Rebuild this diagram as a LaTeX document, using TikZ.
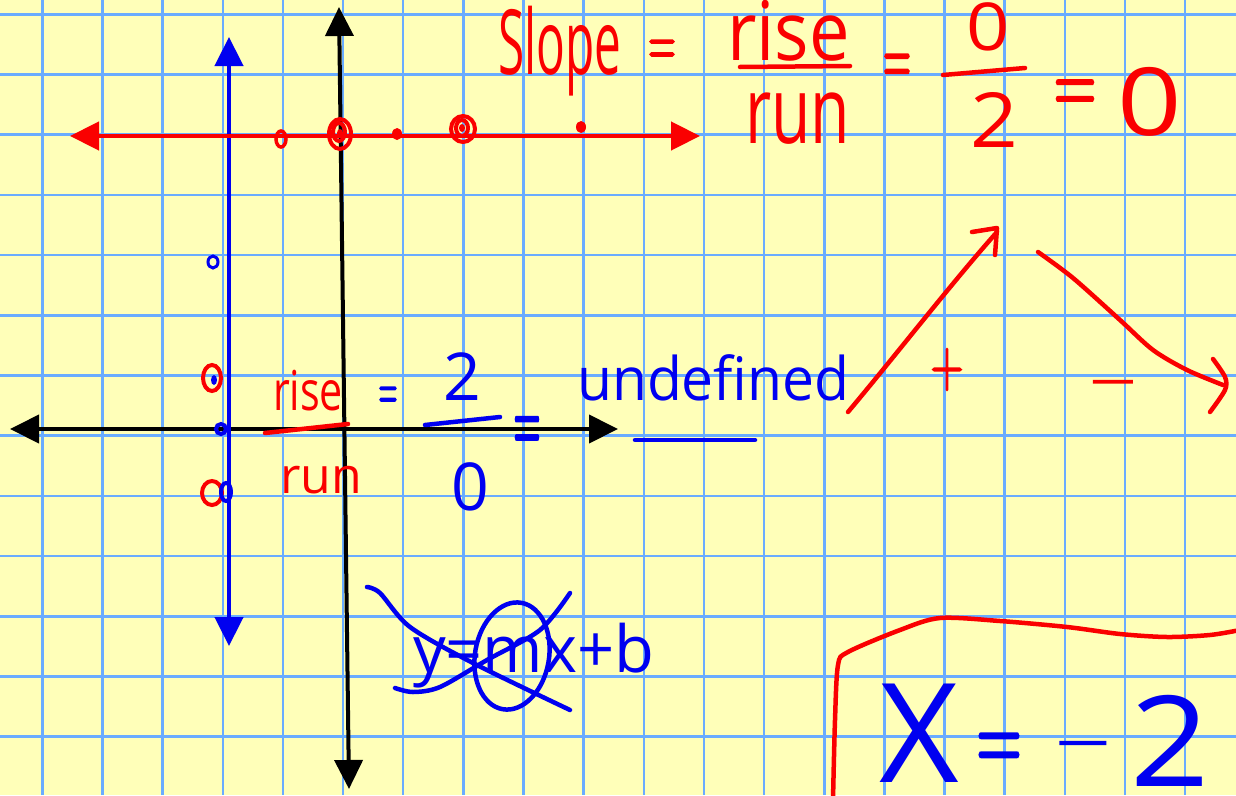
\documentclass[tikz,border=0pt]{standalone}
\usepackage{graphicx}
\usepackage{fontspec}
\usetikzlibrary{arrows.meta}
\setmainfont{Open Sans}
\newfontfamily\lmr[FakeBold=3]{Latin Modern Roman}
\definecolor{paper}{RGB}{255,255,185}
\definecolor{gridblue}{RGB}{105,172,255}
\definecolor{pred}{RGB}{250,0,0}
\definecolor{pblue}{RGB}{0,0,240}
\newcommand\hw[3]{{\fontsize{#2}{#2}\selectfont\scalebox{#1}[1]{#3}}}
\newcommand\sym[3]{{\lmr\fontsize{#2}{#2}\selectfont\scalebox{#1}[1]{#3}}}
\begin{document}
\begin{tikzpicture}[x=1pt,y=-1pt,
  ink/.style={line width=4.5pt,line cap=round,line join=round},
  rtxt/.style={text=pred,inner sep=0pt,outer sep=0pt},
  btxt/.style={text=pblue,inner sep=0pt,outer sep=0pt},
  both/.style={{Triangle[length=29pt,width=28pt]}-{Triangle[length=29pt,width=28pt]}}]
\useasboundingbox (0,0) rectangle (1236,795);
\clip (0,0) rectangle (1236,795);
\fill[paper] (0,0) rectangle (1236,795);
\foreach \k in {0,...,19} \draw[gridblue,line width=2.5pt] ({42.3+60.15*\k},0) -- ({42.3+60.15*\k},795);
\foreach \k in {0,...,12} \draw[gridblue,line width=2.5pt] (0,{14.3+60.2*\k}) -- (1236,{14.3+60.2*\k});
% axes
\coordinate (xl) at (10,429); \coordinate (xr) at (618,429);
\coordinate (yt) at (339,7); \coordinate (yb) at (349,789);
\draw[both,line width=4pt,black] (xl) -- (xr);
\draw[both,line width=4pt,black] (yt) -- (yb);
\coordinate (bt) at (229,37); \coordinate (bb) at (229,646);
\draw[both,line width=4.5pt,pblue] (bt) -- (bb);
\coordinate (rl) at (70,136); \coordinate (rr) at (700,136);
\draw[both,line width=4.5pt,pred] (rl) -- (rr);
% marks on red line
\draw[pred,line width=3.5pt] (281,139) ellipse (5 and 8);
\draw[pred,line width=4pt] (340,134) ellipse (11 and 15);
\draw[pred,line width=4pt] (339,132) ellipse (6 and 9);
\fill[pred] (340,133) ellipse (3 and 4);
\fill[pred] (397,134) ellipse (5 and 6);
\draw[pred,line width=4pt] (463,129) ellipse (12 and 13);
\draw[pred,line width=4pt] (462,128) ellipse (6 and 8);
\fill[pred] (462,128) ellipse (3 and 4);
\fill[pred] (581,127) ellipse (5 and 6);
% marks on blue line
\draw[pblue,line width=3pt] (213,262) ellipse (5 and 6);
\draw[pred,line width=4pt] (212,378) ellipse (9 and 13);
\fill[pblue] (214,380) ellipse (3 and 5);
\draw[pblue,line width=4pt] (221,429) circle (5);
\draw[pred,line width=4pt] (212,493) ellipse (10 and 12);
\draw[pblue,line width=4pt] (226,492) ellipse (5 and 9);
% top equation
\node[rtxt,anchor=base west] (slope) at (498,74) {\hw{0.53}{90}{Slope}};
\node[rtxt,anchor=base] (eq1) at (662,66) {\sym{0.52}{72}{=}};
\node[rtxt,anchor=base west] (rise2) at (727,60) {\hw{0.88}{82}{rise}};
\draw[pred,ink] (740,67) -- (850,66);
\node[rtxt,anchor=base west] (run2) at (745,143) {\hw{0.69}{93}{run}};
\node[rtxt,anchor=base] (eq2) at (897,85) {\sym{0.45}{85}{=}};
\node[rtxt,anchor=base west] (zero1) at (966,50) {\hw{1.15}{66}{0}};
\draw[pred,ink] (943,75) -- (1025,68);
\node[rtxt,anchor=base west] (two1) at (970,147) {\hw{1.1}{76}{2}};
\node[rtxt,anchor=base] (eq3) at (1075,114) {\sym{0.62}{94}{=}};
\node[rtxt,anchor=base west] (zero2) at (1117,135) {\hw{1.2}{94}{0}};
% rise/run near axes
\node[rtxt,anchor=base west] (rise1) at (273,410) {\hw{0.75}{55}{rise}};
\draw[pred,ink] (265,433) -- (348,424);
\node[rtxt,anchor=base west] (run1) at (280,493) {\hw{1}{50}{run}};
\node[btxt,anchor=base] (eq4) at (388,410) {\sym{0.4}{64}{=}};
\node[btxt,anchor=base west] (two2) at (443,400) {\hw{1}{66}{2}};
\draw[pblue,ink] (425,425) -- (500,417);
\node[btxt,anchor=base west] (zero3) at (451,510) {\hw{1}{66}{0}};
\node[btxt,anchor=base] (eq5) at (527,454) {\sym{0.36}{103}{=}};
\node[btxt,anchor=base west] (undef) at (577,400) {\hw{0.95}{60}{undefined}};
\draw[pblue,ink] (635,440) -- (755,440);
% slope arrows
\draw[pred,ink] (848,412) .. controls (900,350) and (950,285) .. (997,232);
\draw[pred,ink] (972,232) -- (997,228) -- (995,255);
\node[rtxt,anchor=base] (plus) at (947,386) {\sym{0.68}{66}{+}};
\draw[pred,ink] plot[smooth] coordinates {(1038,252)(1073,278)(1120,320)(1153,350)(1187,370)(1223,385)};
\draw[pred,ink] plot[smooth] coordinates {(1213,359)(1225,377)(1225,390)(1210,412)};
\node[rtxt,anchor=base] (minus) at (1113,403) {\sym{1}{80}{–}};
% crossed out y=mx+b
\node[btxt,anchor=base west] (ymxb) at (413,672) {\hw{1}{65}{y=mx+b}};
\draw[pblue,ink] plot[smooth] coordinates {(367,587)(380,593)(410,627)(473,663)(570,710)};
\draw[pblue,ink] plot[smooth] coordinates {(395,688)(413,692)(440,687)(487,660)(540,630)(570,593)};
\draw[pblue,ink,rotate around={-10:(512,656)}] (512,656) ellipse (37 and 54);
% boxed x = -2
\draw[pred,ink] plot[smooth] coordinates {(833,800)(835,720)(838,665)(848,652)(900,630)(940,618)(1000,621)(1067,627)(1120,634)(1167,637)(1210,635)(1240,630)};
\node[btxt,anchor=base west] (X) at (879,782) {\hw{1}{138}{X}};
\node[btxt,anchor=base] (eq6) at (999,772) {\sym{0.58}{107}{=}};
\node[btxt,anchor=base] (neg) at (1083,768) {\sym{1}{94}{–}};
\node[btxt,anchor=base west] (two3) at (1130,786) {\hw{1.1}{126}{2}};
\end{tikzpicture}
\end{document}
